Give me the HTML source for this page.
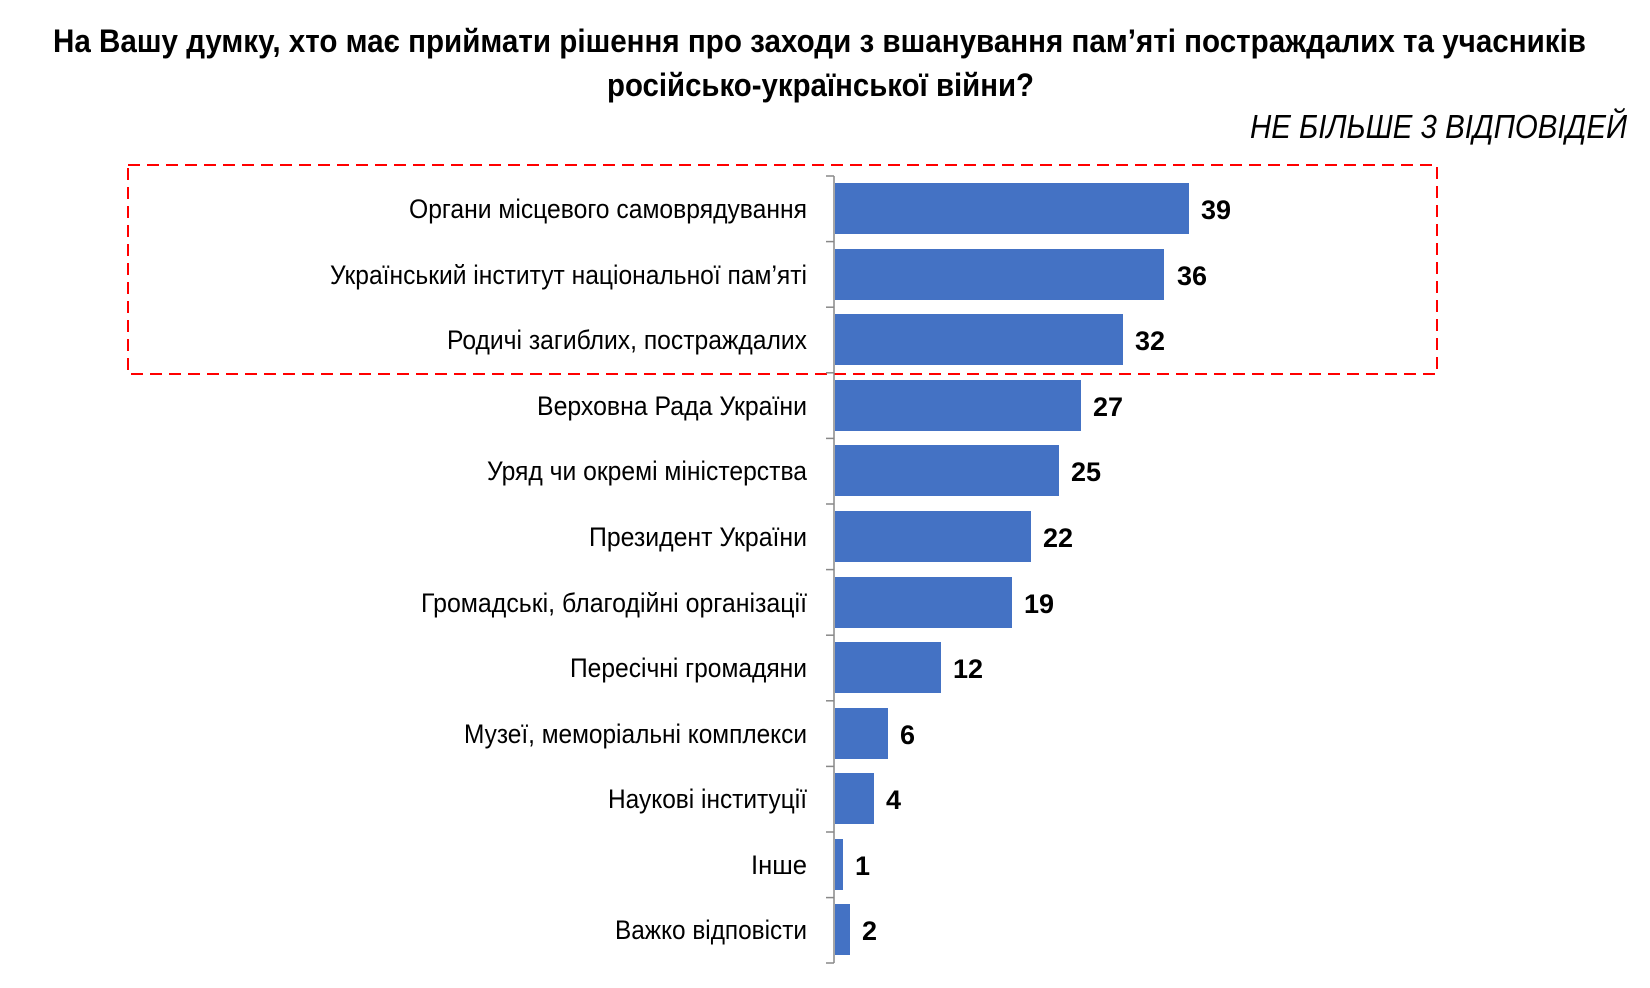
<!DOCTYPE html>
<html><head><meta charset="utf-8"><style>html,body{margin:0;padding:0;background:#fff;}svg{display:block;}</style></head>
<body>
<svg width="1650" height="988" xmlns="http://www.w3.org/2000/svg" font-family="'Liberation Sans', Arial, sans-serif">
<text x="53" y="52" font-size="32" font-weight="bold" textLength="1533" lengthAdjust="spacingAndGlyphs">На Вашу думку, хто має приймати рішення про заходи з вшанування пам’яті постраждалих та учасників</text>
<text x="607" y="96" font-size="32" font-weight="bold" textLength="427" lengthAdjust="spacingAndGlyphs">російсько-української війни?</text>
<text x="1250" y="138" font-size="33" font-style="italic" textLength="377" lengthAdjust="spacingAndGlyphs">НЕ БІЛЬШЕ  3 ВІДПОВІДЕЙ</text>
<rect x="128" y="165" width="1309" height="209" fill="none" stroke="#f00" stroke-width="2" stroke-dasharray="12,7"/>
<g fill="#4472c4">
<rect x="835" y="183" width="354" height="51"/>
<rect x="835" y="249" width="329" height="51"/>
<rect x="835" y="314" width="288" height="51"/>
<rect x="835" y="380" width="246" height="51"/>
<rect x="835" y="445" width="224" height="51"/>
<rect x="835" y="511" width="196" height="51"/>
<rect x="835" y="577" width="177" height="51"/>
<rect x="835" y="642" width="106" height="51"/>
<rect x="835" y="708" width="53" height="51"/>
<rect x="835" y="773" width="39" height="51"/>
<rect x="835" y="839" width="8" height="51"/>
<rect x="835" y="904" width="15" height="51"/>
</g>
<g stroke="#888" stroke-width="1.5">
<line x1="834" y1="176" x2="834" y2="963"/>
<line x1="826" y1="176" x2="834" y2="176"/><line x1="826" y1="241.6" x2="834" y2="241.6"/><line x1="826" y1="307.2" x2="834" y2="307.2"/><line x1="826" y1="372.8" x2="834" y2="372.8"/><line x1="826" y1="438.4" x2="834" y2="438.4"/><line x1="826" y1="504" x2="834" y2="504"/><line x1="826" y1="569.6" x2="834" y2="569.6"/><line x1="826" y1="635.2" x2="834" y2="635.2"/><line x1="826" y1="700.8" x2="834" y2="700.8"/><line x1="826" y1="766.4" x2="834" y2="766.4"/><line x1="826" y1="832" x2="834" y2="832"/><line x1="826" y1="897.6" x2="834" y2="897.6"/><line x1="826" y1="963" x2="834" y2="963"/>
</g>
<g font-size="27" fill="#000">
<text x="409" y="218" textLength="398" lengthAdjust="spacingAndGlyphs">Органи місцевого самоврядування</text>
<text x="330" y="284" textLength="477" lengthAdjust="spacingAndGlyphs">Український інститут національної пам’яті</text>
<text x="447" y="349" textLength="360" lengthAdjust="spacingAndGlyphs">Родичі загиблих, постраждалих</text>
<text x="537" y="415" textLength="270" lengthAdjust="spacingAndGlyphs">Верховна Рада України</text>
<text x="487" y="480" textLength="320" lengthAdjust="spacingAndGlyphs">Уряд чи окремі міністерства</text>
<text x="589" y="546" textLength="218" lengthAdjust="spacingAndGlyphs">Президент України</text>
<text x="421" y="612" textLength="386" lengthAdjust="spacingAndGlyphs">Громадські, благодійні організації</text>
<text x="570" y="677" textLength="237" lengthAdjust="spacingAndGlyphs">Пересічні громадяни</text>
<text x="464" y="743" textLength="343" lengthAdjust="spacingAndGlyphs">Музеї, меморіальні комплекси</text>
<text x="608" y="808" textLength="199" lengthAdjust="spacingAndGlyphs">Наукові інституції</text>
<text x="751" y="874" textLength="56" lengthAdjust="spacingAndGlyphs">Інше</text>
<text x="615" y="939" textLength="192" lengthAdjust="spacingAndGlyphs">Важко відповісти</text>
</g>
<g font-size="27" font-weight="bold" fill="#000">
<text x="1201" y="219">39</text>
<text x="1177" y="285">36</text>
<text x="1135" y="350">32</text>
<text x="1093" y="416">27</text>
<text x="1071" y="481">25</text>
<text x="1043" y="547">22</text>
<text x="1024" y="613">19</text>
<text x="953" y="678">12</text>
<text x="900" y="744">6</text>
<text x="886" y="809">4</text>
<text x="855" y="875">1</text>
<text x="862" y="940">2</text>
</g>
</svg>
</body></html>
